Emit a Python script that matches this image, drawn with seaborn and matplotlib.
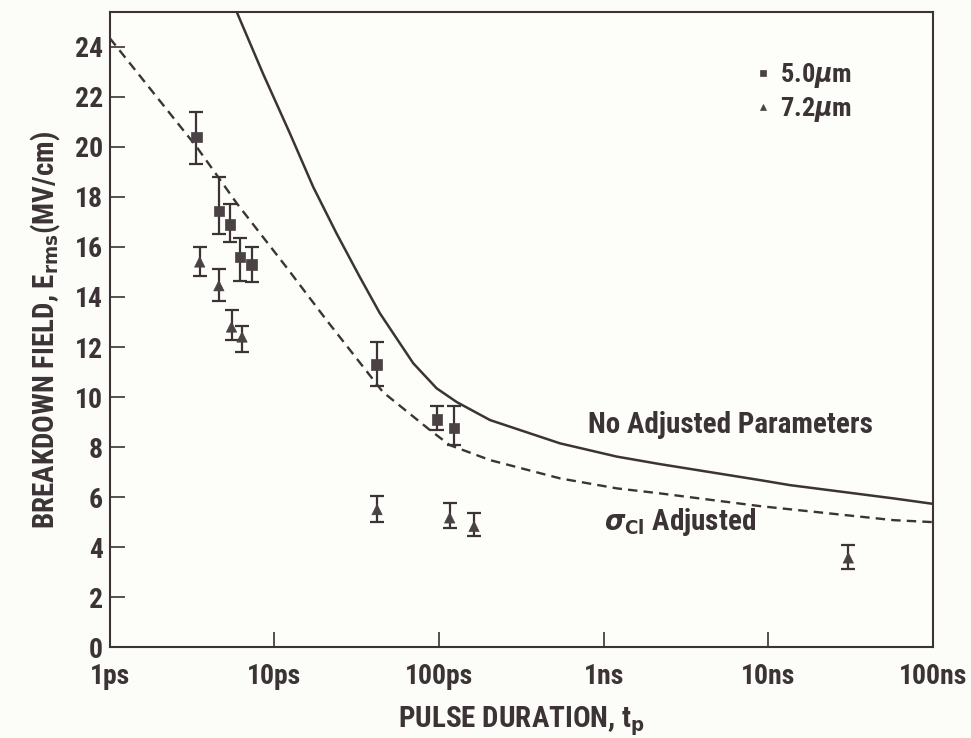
import pandas as pd
import matplotlib.pyplot as plt
import seaborn as sns
from matplotlib import font_manager

# pulse durations in ps, breakdown field in MV/cm
sq_t = [3.36, 4.6, 5.36, 6.17, 7.26, 41.7, 97, 123]
sq_E = [20.4, 17.45, 16.9, 15.6, 15.3, 11.3, 9.1, 8.75]
sq_lo = [19.3, 16.5, 16.2, 14.65, 14.6, 10.45, 8.7, 8.1]
sq_hi = [21.4, 18.8, 17.7, 16.35, 16.0, 12.2, 9.65, 9.65]

tri_t = [3.52, 4.6, 5.49, 6.36, 42, 116, 163, 30550]
tri_E = [15.4, 14.45, 12.8, 12.4, 5.5, 5.17, 4.83, 3.57]
tri_lo = [14.85, 13.85, 12.3, 11.8, 5.0, 4.77, 4.43, 3.13]
tri_hi = [16.0, 15.1, 13.5, 12.85, 6.05, 5.75, 5.35, 4.1]

solid_t = [5.9, 8.5, 12.4, 17.2, 23.8, 33, 43.7, 57.8, 69.7, 96.6, 128, 204, 542, 1200, 2194, 8890, 13500, 57400, 100000]
solid_E = [25.4, 22.95, 20.55, 18.4, 16.55, 14.8, 13.35, 12.15, 11.35, 10.35, 9.8, 9.08, 8.15, 7.62, 7.32, 6.68, 6.48, 5.95, 5.73]

dash_t = [1, 3.37, 4.55, 5.9, 11.8, 20.7, 31.5, 45.6, 88, 116, 204, 542, 1200, 2194, 8890, 57400, 100000]
dash_E = [24.35, 20.0, 18.8, 17.75, 15.2, 13.08, 11.55, 10.2, 8.68, 8.08, 7.48, 6.75, 6.35, 6.15, 5.64, 5.08, 5.0]

xticks = [1, 10, 100, 1000, 10000, 100000]
xtick_labels = ['1ps', '10ps', '100ps', '1ns', '10ns', '100ns']
yticks = list(range(0, 25, 2))

ink = '#3b3335'
mark = '#4a4244'

names = {f.name for f in font_manager.fontManager.ttflist}
narrow = [n for n in ['Liberation Sans Narrow', 'Roboto Condensed', 'Open Sans Condensed'] if n in names]

sns.set_style('ticks')
plt.rcParams['font.family'] = narrow + ['DejaVu Sans']
plt.rcParams['font.stretch'] = 'condensed'
plt.rcParams['font.weight'] = 'bold'
plt.rcParams['mathtext.fontset'] = 'dejavusans'

fig = plt.figure(figsize=(9.71, 7.38), dpi=100, facecolor='#fcfcf8')
ax = fig.add_axes([0.113, 0.123, 0.848, 0.861])
ax.set_facecolor('#fdfdf9')

curves = pd.DataFrame({'t': solid_t, 'E': solid_E})
sns.lineplot(data=curves, x='t', y='E', ax=ax, color=ink, lw=1.8, sort=False)
dashed = pd.DataFrame({'t': dash_t, 'E': dash_E})
sns.lineplot(data=dashed, x='t', y='E', ax=ax, color=ink, lw=1.7, sort=False,
             linestyle=(0, (4, 2.6)))

pts = pd.concat([
    pd.DataFrame({'t': sq_t, 'E': sq_E, 'lo': sq_lo, 'hi': sq_hi, 'lam': '5.0$\\mu$m'}),
    pd.DataFrame({'t': tri_t, 'E': tri_E, 'lo': tri_lo, 'hi': tri_hi, 'lam': '7.2$\\mu$m'}),
])
ax.errorbar(pts['t'], pts['E'], yerr=[pts['E'] - pts['lo'], pts['hi'] - pts['E']],
            fmt='none', ecolor=ink, elinewidth=1.6, capsize=5, capthick=1.6)
sns.scatterplot(data=pts, x='t', y='E', style='lam', markers={'5.0$\\mu$m': 's', '7.2$\\mu$m': '^'},
                color=mark, s=55, edgecolor=mark, linewidth=0.5, ax=ax, zorder=3)

ax.set_xscale('log')
ax.set_xlim(1, 100000)
ax.set_ylim(0, 25.4)
ax.set_xticks(xticks)
ax.set_xticklabels(xtick_labels)
ax.minorticks_off()
ax.set_yticks(yticks)
ax.tick_params(direction='in', length=11, width=1.2, color=ink, labelsize=20, labelcolor=ink, pad=5)
ax.tick_params(axis='x', pad=11)
for s in ax.spines.values():
    s.set_color(ink)
    s.set_linewidth(1.5)

ax.set_xlabel('PULSE DURATION, t$_\\mathrm{p}$', fontsize=21, color=ink, labelpad=11, fontweight='bold')
ax.set_ylabel('BREAKDOWN FIELD, E$_\\mathrm{rms}$(MV/cm)', fontsize=21, color=ink, labelpad=8, fontweight='bold')

ax.text(800, 8.9, 'No Adjusted Parameters', fontsize=21, color=ink, va='center', fontweight='bold')
ax.text(1000, 5.0, '$\\sigma_{\\mathrm{Cl}}$ Adjusted', fontsize=21, color=ink, va='center', fontweight='bold')

leg = ax.legend(loc='upper right', bbox_to_anchor=(0.93, 0.96), frameon=False, markerscale=0.6,
                handlelength=0.7, handletextpad=0.3, labelspacing=0.2, fontsize=19, labelcolor=ink, title=None)

fig.savefig('out.png', dpi=100, facecolor=fig.get_facecolor())
